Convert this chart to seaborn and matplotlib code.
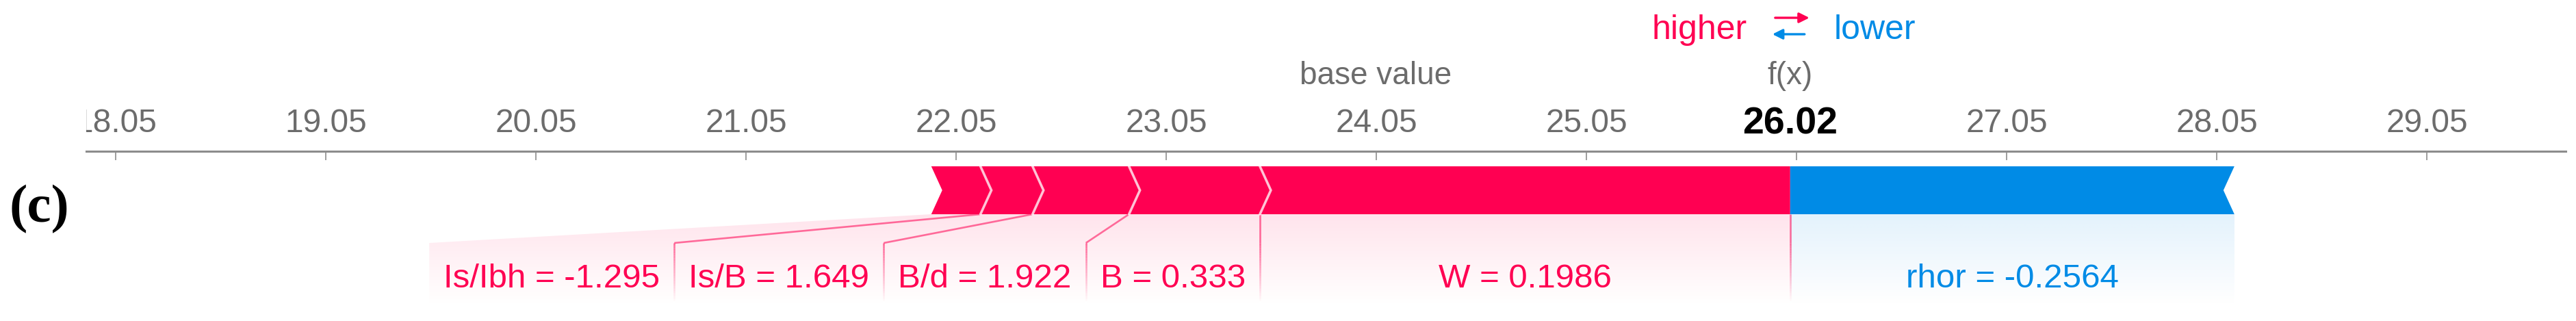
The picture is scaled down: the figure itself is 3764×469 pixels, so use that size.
import numpy as np
import matplotlib
matplotlib.use("Agg")
import matplotlib.pyplot as plt
import seaborn as sns
from matplotlib.patches import Polygon
from matplotlib.collections import LineCollection
from matplotlib.transforms import Bbox, TransformedBbox

# ---------------- data ----------------
features = ["Is/Ibh", "Is/B", "B/d", "B", "W", "rhor"]
feature_values = ["-1.295", "1.649", "1.922", "0.333", "0.1986", "-0.2564"]
shap_values = [0.234, 0.248, 0.459, 0.623, 2.524, -2.114]
fx = 26.02
tick_values = [18.05, 19.05, 20.05, 21.05, 22.05, 23.05, 24.05, 25.05,
               26.05, 27.05, 28.05, 29.05]
panel_label = "(c)"

base_value = fx - sum(shap_values)

RED = "#FF0052"
BLUE = "#008BE6"
GRAY_TXT = "#6c6c6c"
GRAY_LINE = "#8c8c8c"

sns.set_theme(style="white")
plt.rcParams["font.family"] = ["Liberation Sans", "DejaVu Sans"]

W_PX, H_PX = 3764, 469
fig = plt.figure(figsize=(W_PX / 100, H_PX / 100), dpi=100)
fig.patch.set_facecolor("white")

AX_LEFT_PX = 126
AXIS_Y = 221
BAR_TOP, BAR_MID, BAR_BOT = 243, 278, 313
LINK_Y = 355
FADE_END = 447
LABEL_BASE = 420

ax = fig.add_axes([AX_LEFT_PX / W_PX, 0, 1 - AX_LEFT_PX / W_PX, (H_PX - AXIS_Y) / H_PX])
XMIN, XMAX = 17.91, 29.76
ax.set_xlim(XMIN, XMAX)
ax.set_ylim(H_PX, AXIS_Y)
ax.patch.set_alpha(0)
sns.despine(ax=ax, top=False, right=True, left=True, bottom=True)
ax.spines["top"].set_color(GRAY_LINE)
ax.spines["top"].set_linewidth(2.2)
ax.spines["top"].set_bounds(XMIN, 29.71)
ax.set_yticks([])
ax.xaxis.tick_top()
ax.set_xticks(tick_values)
ax.set_xticklabels([f"{t:.2f}" if abs(t - fx) > 0.3 else "" for t in tick_values])
ax.tick_params(axis="x", which="major", top=True, bottom=False, labeltop=True,
               labelbottom=False, direction="in", length=9.5, width=1.2,
               color=GRAY_LINE, labelsize=34.5, labelcolor=GRAY_TXT, pad=13)
ax.grid(False)

clip = TransformedBbox(Bbox([[AX_LEFT_PX / W_PX, 0], [1, 1]]), fig.transFigure)
for t in ax.xaxis.get_major_ticks():
    t.label2.set_clip_box(clip)
    t.label2.set_clip_on(True)

ppu = ax.transData.transform((1, 0))[0] - ax.transData.transform((0, 0))[0]
d = 16 / ppu

n = len(features)
pos_sorted = sorted([i for i in range(n) if shap_values[i] > 0], key=lambda i: shap_values[i])
neg_sorted = sorted([i for i in range(n) if shap_values[i] < 0], key=lambda i: -abs(shap_values[i]))

pink_segs = []
x = fx - sum(shap_values[i] for i in pos_sorted)
for i in pos_sorted:
    pink_segs.append((i, x, x + shap_values[i]))
    x += shap_values[i]
blue_segs = []
x = fx
for i in neg_sorted:
    blue_segs.append((i, x, x + abs(shap_values[i])))
    x += abs(shap_values[i])

# ---------------- bars ----------------
for k, (i, a, b) in enumerate(pink_segs):
    last = k == len(pink_segs) - 1
    pts = [(a, BAR_TOP), (b, BAR_TOP), (b if last else b + d, BAR_MID), (b, BAR_BOT),
           (a, BAR_BOT), (a + d, BAR_MID)]
    ax.add_patch(Polygon(pts, closed=True, facecolor=RED, edgecolor="none", zorder=3))
    if not last:
        ax.plot([b, b + d, b], [BAR_TOP, BAR_MID, BAR_BOT], color="white", alpha=0.75,
                lw=2.6, zorder=4, solid_joinstyle="miter")
for k, (i, a, b) in enumerate(blue_segs):
    first = k == 0
    pts = [(a, BAR_TOP), (b, BAR_TOP), (b - d, BAR_MID), (b, BAR_BOT), (a, BAR_BOT),
           (a if first else a - d, BAR_MID)]
    ax.add_patch(Polygon(pts, closed=True, facecolor=BLUE, edgecolor="none", zorder=3))
    if not first:
        ax.plot([a, a - d, a], [BAR_TOP, BAR_MID, BAR_BOT], color="white", alpha=0.75,
                lw=2.6, zorder=4)

# ---------------- labels & layout ----------------
renderer = fig.canvas.get_renderer()
texts, widths = {}, {}
for i in range(n):
    col = RED if shap_values[i] > 0 else BLUE
    t = ax.text(0, LABEL_BASE, f"{features[i]} = {feature_values[i]}", ha="center",
                va="baseline", fontsize=35.5, color=col, zorder=6)
    texts[i] = t
    widths[i] = t.get_window_extent(renderer).width / ppu

pad = 21 / ppu
boxes = {}
prev = fx
for (i, a, b) in reversed(pink_segs):
    bw = max(b - a, widths[i] + 2 * pad)
    br = min(b, prev)
    bl = br - bw
    boxes[i] = (bl, br)
    prev = bl
prev = fx
for (i, a, b) in blue_segs:
    bw = max(b - a, widths[i] + 2 * pad)
    bl = max(a, prev)
    br = bl + bw
    boxes[i] = (bl, br)
    prev = br

for i in range(n):
    bl, br = boxes[i]
    texts[i].set_position(((bl + br) / 2, LABEL_BASE))


def shade(a, b, bl, br, color):
    poly = Polygon([(a, BAR_BOT), (b, BAR_BOT), (br, LINK_Y), (br, FADE_END),
                    (bl, FADE_END), (bl, LINK_Y)], closed=True, transform=ax.transData)
    rgb = matplotlib.colors.to_rgb(color)
    nrows = 120
    grad = np.zeros((nrows, 2, 4))
    grad[..., :3] = rgb
    grad[..., 3] = np.linspace(0.11, 0.0, nrows)[:, None]
    im = ax.imshow(grad, extent=(min(a, bl), max(b, br), FADE_END, BAR_BOT), origin="upper",
                   aspect="auto", interpolation="bilinear", zorder=1)
    im.set_clip_path(poly)


def link(xs, xb, color):
    ax.plot([xs, xb], [BAR_BOT, LINK_Y], color=color, alpha=0.55, lw=1.9, zorder=2,
            solid_capstyle="butt")
    ys = np.linspace(LINK_Y, FADE_END - 4, 25)
    segs = [[(xb, ys[j]), (xb, ys[j + 1])] for j in range(len(ys) - 1)]
    alphas = np.linspace(0.55, 0.0, len(segs))
    rgb = matplotlib.colors.to_rgb(color)
    lc = LineCollection(segs, colors=[(*rgb, al) for al in alphas], linewidths=1.9, zorder=2)
    ax.add_collection(lc)


for (i, a, b) in pink_segs:
    shade(a, b, boxes[i][0], boxes[i][1], RED)
for (i, a, b) in blue_segs:
    shade(a, b, boxes[i][0], boxes[i][1], BLUE)

for k, (i, a, b) in enumerate(pink_segs):
    link(b, boxes[i][1], RED)
for k, (i, a, b) in enumerate(blue_segs[:-1]):
    link(b, boxes[i][1], BLUE)

# ---------------- top annotations ----------------
ax.text(base_value, 123, "base value", ha="center", va="baseline", fontsize=33,
        color=GRAY_TXT, clip_on=False)
ax.text(fx, 123, "f(x)", ha="center", va="baseline", fontsize=33, color=GRAY_TXT, clip_on=False)
ax.text(fx, 195, f"{fx:.2f}", ha="center", va="baseline", fontsize=40, fontweight="bold",
        color="black", clip_on=False)

ax.annotate("higher", xy=(fx, 57), xytext=(-63, 0), textcoords="offset pixels", ha="right",
            va="baseline", color=RED, fontsize=36, annotation_clip=False)
ax.annotate("lower", xy=(fx, 57), xytext=(64, 0), textcoords="offset pixels", ha="left",
            va="baseline", color=BLUE, fontsize=36, annotation_clip=False)
ax.annotate("", xy=(fx + 28 / ppu, 26), xytext=(fx - 22 / ppu, 26),
            arrowprops=dict(arrowstyle="-|>", color=RED, lw=2.4, mutation_scale=22,
                            shrinkA=0, shrinkB=0), annotation_clip=False)
ax.annotate("", xy=(fx - 26 / ppu, 50), xytext=(fx + 21 / ppu, 50),
            arrowprops=dict(arrowstyle="-|>", color=BLUE, lw=2.4, mutation_scale=22,
                            shrinkA=0, shrinkB=0), annotation_clip=False)

fig.text(57 / W_PX, 1 - 306 / H_PX, panel_label, fontfamily="Liberation Serif",
         fontweight="bold", fontsize=57, ha="center", va="center", color="black")

ax.set_xlim(XMIN, XMAX)
ax.set_ylim(H_PX, AXIS_Y)
fig.savefig("out.png", dpi=100, facecolor="white")
